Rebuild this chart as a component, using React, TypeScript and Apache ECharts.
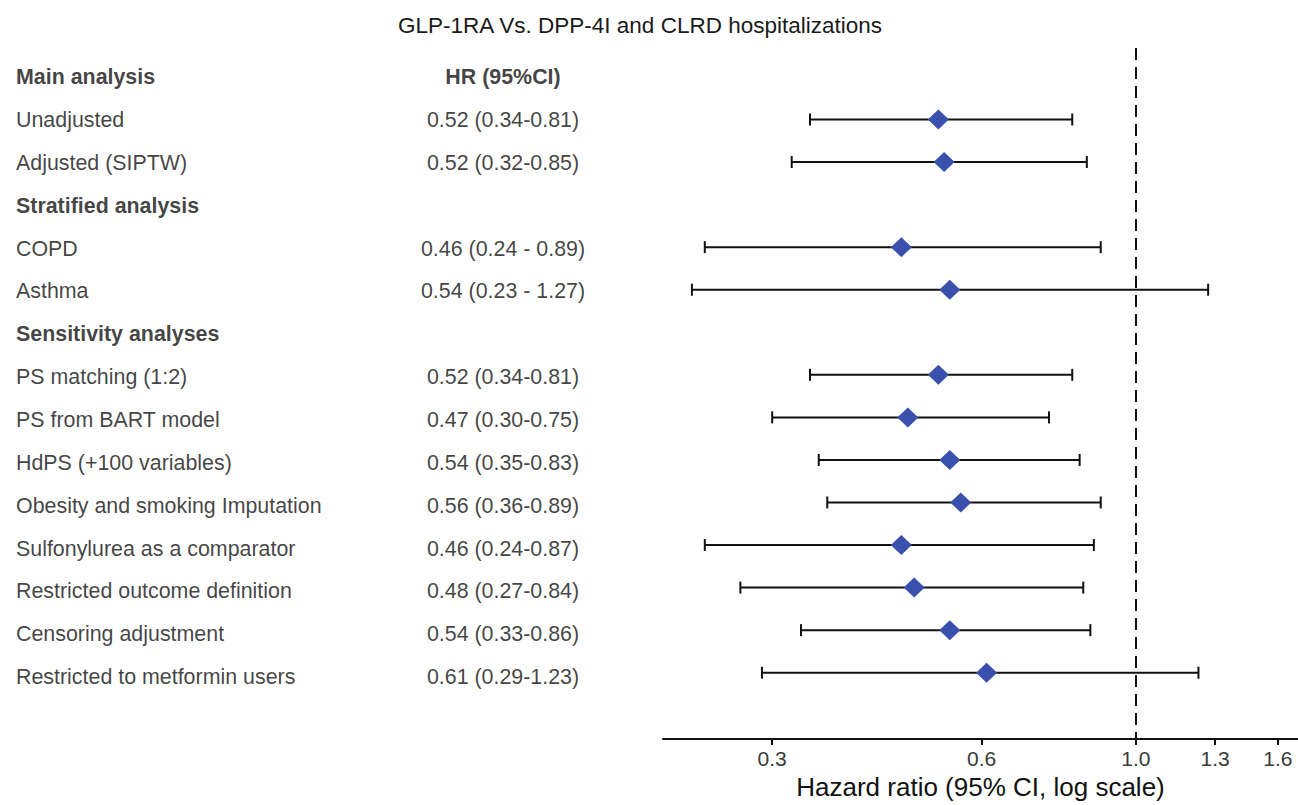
import React, { useEffect, useRef } from "react";
import * as echarts from "echarts";

const rowLabels = [
  "Main analysis",
  "Unadjusted",
  "Adjusted (SIPTW)",
  "Stratified analysis",
  "COPD",
  "Asthma",
  "Sensitivity analyses",
  "PS matching (1:2)",
  "PS from BART model",
  "HdPS (+100 variables)",
  "Obesity and smoking Imputation",
  "Sulfonylurea as a comparator",
  "Restricted outcome definition",
  "Censoring adjustment",
  "Restricted to metformin users",
];
const headerRows = [0, 3, 6];
const hrText = [
  "HR (95%CI)",
  "0.52 (0.34-0.81)",
  "0.52 (0.32-0.85)",
  "",
  "0.46 (0.24 - 0.89)",
  "0.54 (0.23 - 1.27)",
  "",
  "0.52 (0.34-0.81)",
  "0.47 (0.30-0.75)",
  "0.54 (0.35-0.83)",
  "0.56 (0.36-0.89)",
  "0.46 (0.24-0.87)",
  "0.48 (0.27-0.84)",
  "0.54 (0.33-0.86)",
  "0.61 (0.29-1.23)",
];
const estimate = [null, 0.52, 0.53, null, 0.46, 0.54, null, 0.52, 0.47, 0.54, 0.56, 0.46, 0.48, 0.54, 0.61];
const lower = [null, 0.34, 0.32, null, 0.24, 0.23, null, 0.34, 0.3, 0.35, 0.36, 0.24, 0.27, 0.33, 0.29];
const upper = [null, 0.81, 0.85, null, 0.89, 1.27, null, 0.81, 0.75, 0.83, 0.89, 0.87, 0.84, 0.86, 1.23];
const xTicks = [0.3, 0.6, 1.0, 1.3, 1.6];
const refLine = 1.0;

const TEXT = "#111";
const FONT = "Liberation Sans, Arial, sans-serif";

export default function App() {
  const ref = useRef<HTMLDivElement>(null);
  useEffect(() => {
    if (!ref.current) return;
    const chart = echarts.init(ref.current, undefined, { renderer: "svg" });
    const nRows = rowLabels.length;
    const yMin = -0.68;
    const yMax = 15.56;

    const ciData: any[] = [];
    const ptData: any[] = [];
    for (let i = 0; i < nRows; i++) {
      if (estimate[i] != null) {
        ciData.push([Math.log(lower[i] as number), Math.log(upper[i] as number), i]);
        ptData.push([Math.log(estimate[i] as number), i]);
      }
    }

    const labelData = rowLabels.map((name, i) => ({
      name,
      value: [16, i],
      label: { fontWeight: headerRows.includes(i) ? "bold" : "normal" },
    }));
    const hrData = hrText
      .map((name, i) => ({
        name,
        value: [503, i],
        label: { fontWeight: i === 0 ? "bold" : "normal" },
      }))
      .filter((d) => d.name !== "");

    const option: any = {
      animation: false,
      textStyle: { fontFamily: FONT },
      title: {
        text: "GLP-1RA Vs. DPP-4I and CLRD hospitalizations",
        left: 640,
        top: 14,
        padding: 0,
        textAlign: "center",
        textStyle: { fontFamily: FONT, fontSize: 22.5, fontWeight: "normal", color: "#1a1a1a" },
      },
      grid: [
        { left: 663, right: 0, top: 48, bottom: 61, containLabel: false },
        { left: 0, width: 663, top: 48, bottom: 61, containLabel: false },
      ],
      xAxis: [
        {
          type: "value",
          gridIndex: 0,
          min: Math.log(0.209),
          max: Math.log(1.71),
          splitLine: { show: false },
          axisLine: { show: true, onZero: false, lineStyle: { color: TEXT, width: 2 } },
          axisTick: {
            show: true,
            length: 6,
            customValues: xTicks.map((v) => Math.log(v)),
            lineStyle: { color: TEXT, width: 2 },
          },
          axisLabel: {
            show: true,
            customValues: xTicks.map((v) => Math.log(v)),
            formatter: (v: number) => "{t|" + Math.exp(v).toFixed(1) + "}",
            rich: {
              t: { fontFamily: FONT, fontSize: 21, color: "#3a3a3a" },
            },
            fontFamily: FONT,
            fontSize: 21,
            color: "#3a3a3a",
            margin: 9,
          },
          name: "Hazard ratio (95% CI, log scale)",
          nameLocation: "middle",
          nameGap: 34,
          nameTextStyle: { fontFamily: FONT, fontSize: 26, color: TEXT },
        },
        {
          type: "value",
          gridIndex: 1,
          min: 0,
          max: 663,
          show: false,
        },
      ],
      yAxis: [
        { type: "value", gridIndex: 0, min: yMin, max: yMax, inverse: true, show: false },
        { type: "value", gridIndex: 1, min: yMin, max: yMax, inverse: true, show: false },
      ],
      series: [
        {
          type: "custom",
          xAxisIndex: 0,
          yAxisIndex: 0,
          encode: { x: [0, 1], y: 2 },
          data: ciData,
          renderItem: (params: any, api: any) => {
            const lo = api.coord([api.value(0), api.value(2)]);
            const hi = api.coord([api.value(1), api.value(2)]);
            const cap = 6;
            const st = { stroke: TEXT, lineWidth: 2 };
            return {
              type: "group",
              children: [
                { type: "line", shape: { x1: lo[0], y1: lo[1], x2: hi[0], y2: hi[1] }, style: st },
                { type: "line", shape: { x1: lo[0], y1: lo[1] - cap, x2: lo[0], y2: lo[1] + cap }, style: st },
                { type: "line", shape: { x1: hi[0], y1: hi[1] - cap, x2: hi[0], y2: hi[1] + cap }, style: st },
              ],
            };
          },
          z: 2,
        },
        {
          type: "scatter",
          xAxisIndex: 0,
          yAxisIndex: 0,
          symbol: "diamond",
          symbolSize: [21, 20],
          itemStyle: { color: "#3a50ad", opacity: 1 },
          data: ptData,
          z: 3,
          markLine: {
            silent: true,
            symbol: "none",
            label: { show: false },
            lineStyle: { color: TEXT, width: 2, type: [12, 7] },
            data: [{ xAxis: Math.log(refLine) }],
          },
        },
        {
          type: "scatter",
          xAxisIndex: 1,
          yAxisIndex: 1,
          symbolSize: 0,
          data: labelData,
          label: {
            show: true,
            position: [0, 0],
            align: "left",
            verticalAlign: "middle",
            formatter: "{b}",
            fontFamily: FONT,
            fontSize: 21.4,
            color: TEXT,
          },
        },
        {
          type: "scatter",
          xAxisIndex: 1,
          yAxisIndex: 1,
          symbolSize: 0,
          data: hrData,
          label: {
            show: true,
            position: [0, 0],
            align: "center",
            verticalAlign: "middle",
            formatter: "{b}",
            fontFamily: FONT,
            fontSize: 21.4,
            color: TEXT,
          },
        },
      ],
    };
    chart.setOption(option);
    return () => chart.dispose();
  }, []);
  return (
    <div
      ref={ref}
      style={{ position: "fixed", left: 0, top: 0, width: 1298, height: 805, background: "#fff" }}
    />
  );
}
